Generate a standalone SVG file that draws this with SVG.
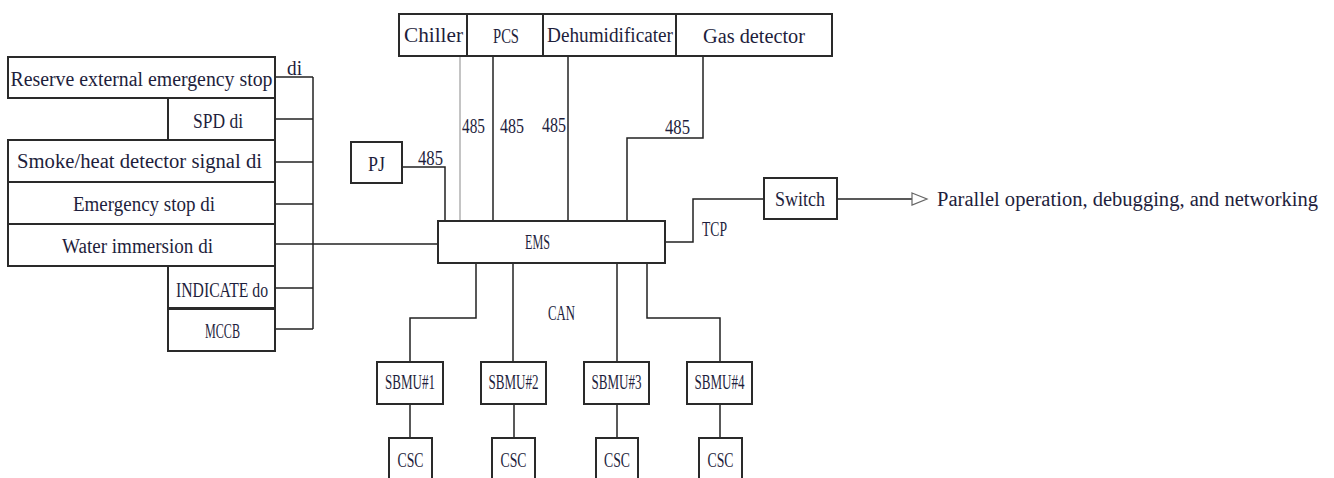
<svg xmlns="http://www.w3.org/2000/svg" width="1334" height="478" viewBox="0 0 1334 478">
<style>
.b{fill:#fff;stroke:#2a2a2a;stroke-width:2}
.c{fill:none;stroke:#222;stroke-width:1.5}
.g{fill:none;stroke:#b0b0b0;stroke-width:1.5}
.t{font-family:"Liberation Serif",serif;font-size:20px;fill:#1e1e3c;text-anchor:middle}
.s{font-family:"Liberation Serif",serif;font-size:20px;fill:#1e1e3c;text-anchor:start}
</style>
<rect width="1334" height="478" fill="#fff"/>
<g id="connectors">
<line class="c" x1="313" y1="77" x2="313" y2="329"/>
<line class="c" x1="275" y1="77" x2="313" y2="77"/>
<line class="c" x1="275" y1="119" x2="313" y2="119"/>
<line class="c" x1="275" y1="162" x2="313" y2="162"/>
<line class="c" x1="275" y1="204" x2="313" y2="204"/>
<line class="c" x1="275" y1="244" x2="438" y2="244"/>
<line class="c" x1="275" y1="288" x2="313" y2="288"/>
<line class="c" x1="275" y1="329" x2="313" y2="329"/>
<line class="g" x1="460" y1="56" x2="460" y2="221"/>
<line class="c" x1="493" y1="56" x2="493" y2="221"/>
<line class="c" x1="568" y1="56" x2="568" y2="221"/>
<polyline class="c" points="703,56 703,138 627,138 627,221"/>
<polyline class="c" points="402,167 445,167 445,221"/>
<polyline class="c" points="665,242 693,242 693,199 764,199"/>
<line class="c" x1="837" y1="199" x2="912" y2="199"/>
<polygon points="912,193 927,199 912,205" fill="#fff" stroke="#666" stroke-width="1.2"/>
<polyline class="c" points="476,263 476,318 410,318 410,362"/>
<line class="c" x1="513" y1="263" x2="513" y2="362"/>
<line class="c" x1="617" y1="263" x2="617" y2="362"/>
<polyline class="c" points="647,263 647,318 720,318 720,362"/>
<line class="c" x1="410" y1="404" x2="410" y2="438"/>
<line class="c" x1="514" y1="404" x2="514" y2="438"/>
<line class="c" x1="617" y1="404" x2="617" y2="438"/>
<line class="c" x1="720" y1="404" x2="720" y2="438"/>
</g>
<g id="labels">
<text class="s" x="287" y="75" textLength="15" lengthAdjust="spacingAndGlyphs">di</text>
<text class="t" x="473.5" y="133" textLength="23" lengthAdjust="spacingAndGlyphs">485</text>
<text class="t" x="512" y="133" textLength="24" lengthAdjust="spacingAndGlyphs">485</text>
<text class="t" x="554" y="132" textLength="24" lengthAdjust="spacingAndGlyphs">485</text>
<text class="t" x="677.5" y="134" textLength="25" lengthAdjust="spacingAndGlyphs">485</text>
<text class="t" x="430.5" y="165" textLength="25" lengthAdjust="spacingAndGlyphs">485</text>
<text class="t" x="714.5" y="236" textLength="25" lengthAdjust="spacingAndGlyphs">TCP</text>
<text class="t" x="561.5" y="320" textLength="27" lengthAdjust="spacingAndGlyphs">CAN</text>
<text class="s" x="937" y="206" textLength="381" lengthAdjust="spacingAndGlyphs">Parallel operation, debugging, and networking</text>
</g>
<g id="reserve"><rect class="b" x="8" y="57" width="267" height="41"/><text class="t" x="141.5" y="86" textLength="262" lengthAdjust="spacingAndGlyphs">Reserve external emergency stop</text></g>
<g id="spd"><rect class="b" x="168" y="98" width="107" height="42"/><text class="t" x="218" y="128" textLength="50" lengthAdjust="spacingAndGlyphs">SPD di</text></g>
<g id="smoke"><rect class="b" x="8" y="140" width="267" height="42"/><text class="t" x="139.5" y="168" textLength="245" lengthAdjust="spacingAndGlyphs">Smoke/heat detector signal di</text></g>
<g id="estop"><rect class="b" x="8" y="182" width="267" height="42"/><text class="t" x="144" y="211" textLength="142" lengthAdjust="spacingAndGlyphs">Emergency stop di</text></g>
<g id="water"><rect class="b" x="8" y="224" width="267" height="42"/><text class="t" x="137.5" y="253" textLength="151" lengthAdjust="spacingAndGlyphs">Water immersion di</text></g>
<g id="indicate"><rect class="b" x="168" y="266" width="107" height="42"/><text class="t" x="222" y="297" textLength="92" lengthAdjust="spacingAndGlyphs">INDICATE do</text></g>
<g id="mccb"><rect class="b" x="168" y="309" width="107" height="42"/><text class="t" x="222.5" y="338" textLength="35" lengthAdjust="spacingAndGlyphs">MCCB</text></g>
<g id="chiller"><rect class="b" x="399" y="14" width="68" height="42"/><text class="t" x="433.5" y="42" textLength="59" lengthAdjust="spacingAndGlyphs">Chiller</text></g>
<g id="pcs"><rect class="b" x="467" y="14" width="76" height="42"/><text class="t" x="506" y="43" textLength="26" lengthAdjust="spacingAndGlyphs">PCS</text></g>
<g id="dehum"><rect class="b" x="543" y="14" width="133" height="42"/><text class="t" x="610" y="42" textLength="126" lengthAdjust="spacingAndGlyphs">Dehumidificater</text></g>
<g id="gas"><rect class="b" x="676" y="14" width="156" height="42"/><text class="t" x="754" y="43" textLength="102" lengthAdjust="spacingAndGlyphs">Gas detector</text></g>
<g id="pj"><rect class="b" x="351" y="142" width="51" height="41"/><text class="t" x="376.5" y="171" textLength="17" lengthAdjust="spacingAndGlyphs">PJ</text></g>
<g id="ems"><rect class="b" x="438" y="221" width="227" height="42"/><text class="t" x="537.5" y="249" textLength="25" lengthAdjust="spacingAndGlyphs">EMS</text></g>
<g id="switch"><rect class="b" x="764" y="178" width="73" height="41"/><text class="t" x="800" y="206" textLength="50" lengthAdjust="spacingAndGlyphs">Switch</text></g>
<g id="sbmu1"><rect class="b" x="377" y="362" width="66" height="42"/><text class="t" x="410" y="389" textLength="50" lengthAdjust="spacingAndGlyphs">SBMU#1</text></g>
<g id="sbmu2"><rect class="b" x="481" y="362" width="65" height="42"/><text class="t" x="513.5" y="389" textLength="50" lengthAdjust="spacingAndGlyphs">SBMU#2</text></g>
<g id="sbmu3"><rect class="b" x="584" y="362" width="65" height="42"/><text class="t" x="616.5" y="389" textLength="50" lengthAdjust="spacingAndGlyphs">SBMU#3</text></g>
<g id="sbmu4"><rect class="b" x="687" y="362" width="65" height="42"/><text class="t" x="719.5" y="389" textLength="50" lengthAdjust="spacingAndGlyphs">SBMU#4</text></g>
<g id="csc1"><rect class="b" x="389" y="438" width="43" height="45"/><text class="t" x="410.5" y="467" textLength="26" lengthAdjust="spacingAndGlyphs">CSC</text></g>
<g id="csc2"><rect class="b" x="492" y="438" width="43" height="45"/><text class="t" x="513.5" y="467" textLength="26" lengthAdjust="spacingAndGlyphs">CSC</text></g>
<g id="csc3"><rect class="b" x="596" y="438" width="42" height="45"/><text class="t" x="617" y="467" textLength="26" lengthAdjust="spacingAndGlyphs">CSC</text></g>
<g id="csc4"><rect class="b" x="699" y="438" width="43" height="45"/><text class="t" x="720.5" y="467" textLength="26" lengthAdjust="spacingAndGlyphs">CSC</text></g>
</svg>
